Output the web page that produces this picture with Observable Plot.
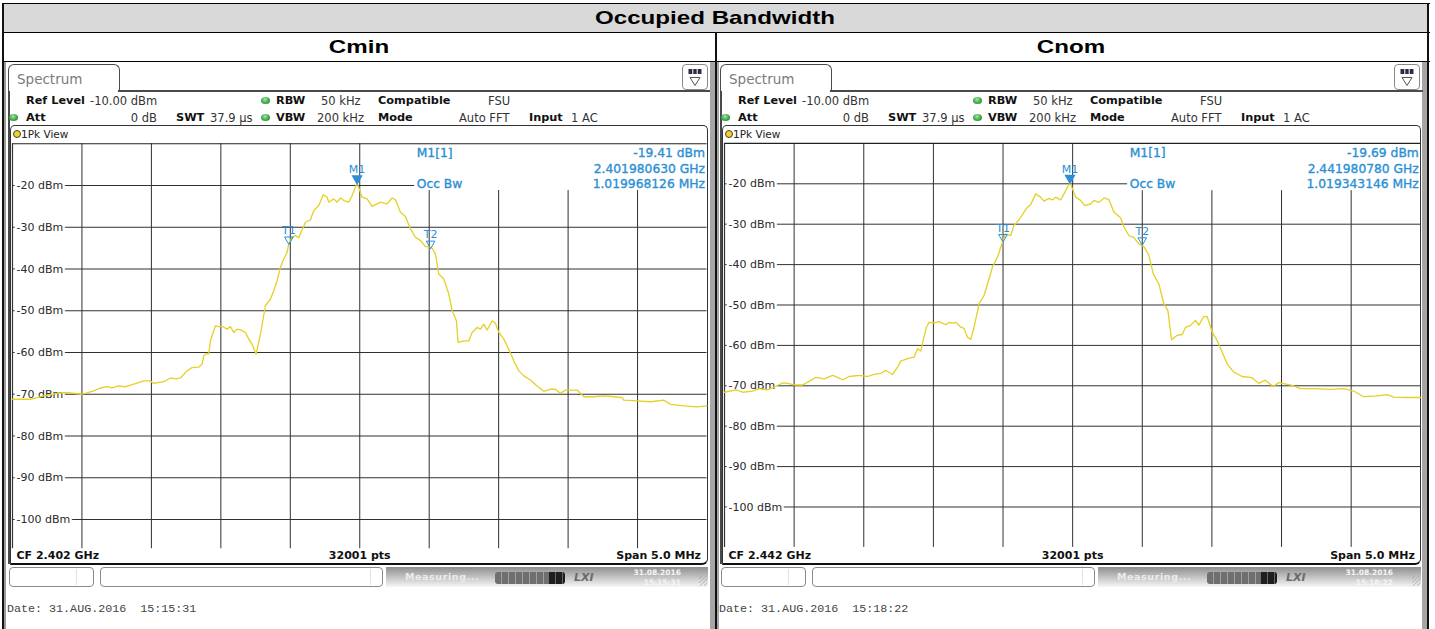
<!DOCTYPE html>
<html>
<head>
<meta charset="utf-8">
<script src="https://cdn.jsdelivr.net/npm/d3@7"></script>
<script src="https://cdn.jsdelivr.net/npm/@observablehq/plot@0.6"></script>
<style>
html, body { margin: 0; padding: 0; background: #fff; }
#page { position: relative; width: 1435px; height: 629px; overflow: hidden; font-family: "DejaVu Sans", sans-serif; }
</style>
</head>
<body>
<div id="page"></div>
<script>
// ---------------- DATA ----------------
const chartTitle = "Occupied Bandwidth";
const panelTitles = ["Cmin", "Cnom"];

// trace: [frequency offset from CF in MHz, level in dBm]
const cminTrace = [
  [-2.500,-71.2],[-2.371,-71.2],[-2.275,-70.4],[-2.167,-69.7],[-2.107,-69.6],[-1.999,-70.0],[-1.915,-69.2],
  [-1.867,-68.5],[-1.819,-68.2],[-1.783,-68.5],[-1.735,-68.0],[-1.687,-68.2],[-1.627,-67.6],[-1.555,-66.8],
  [-1.507,-66.8],[-1.483,-67.4],[-1.411,-67.0],[-1.363,-66.1],[-1.327,-66.3],[-1.291,-66.1],[-1.243,-64.4],
  [-1.207,-63.6],[-1.159,-63.5],[-1.135,-62.8],[-1.123,-60.8],[-1.099,-60.2],[-1.087,-60.3],[-1.075,-57.2],
  [-1.039,-53.6],[-1.015,-53.8],[-0.991,-53.7],[-0.955,-54.4],[-0.931,-53.8],[-0.907,-55.2],[-0.883,-54.4],
  [-0.859,-54.6],[-0.823,-55.2],[-0.799,-56.8],[-0.775,-58.0],[-0.746,-60.4],[-0.715,-55.6],[-0.679,-48.8],
  [-0.643,-47.2],[-0.619,-45.2],[-0.595,-42.8],[-0.571,-39.6],[-0.547,-37.6],[-0.523,-36.0],[-0.511,-34.0],
  [-0.487,-32.4],[-0.463,-32.0],[-0.439,-32.5],[-0.415,-30.6],[-0.391,-28.8],[-0.355,-28.2],[-0.331,-26.0],
  [-0.295,-24.8],[-0.263,-22.2],[-0.235,-22.8],[-0.223,-24.0],[-0.187,-23.2],[-0.163,-24.0],[-0.139,-23.0],
  [-0.115,-23.6],[-0.079,-24.0],[-0.055,-22.4],[-0.019,-19.41],[0.017,-22.8],[0.053,-23.2],[0.089,-25.0],
  [0.125,-24.4],[0.149,-24.0],[0.173,-24.2],[0.197,-24.4],[0.233,-23.0],[0.257,-23.4],[0.293,-26.4],
  [0.329,-27.4],[0.365,-30.4],[0.401,-32.4],[0.437,-33.2],[0.473,-34.6],[0.521,-35.0],[0.545,-36.4],
  [0.569,-41.2],[0.605,-42.4],[0.641,-46.0],[0.665,-50.0],[0.696,-52.4],[0.708,-57.6],[0.749,-57.2],
  [0.785,-57.2],[0.809,-55.2],[0.845,-54.0],[0.869,-54.4],[0.893,-53.2],[0.917,-54.6],[0.953,-52.4],
  [0.977,-53.0],[1.001,-55.2],[1.037,-56.8],[1.073,-59.2],[1.109,-62.0],[1.145,-64.4],[1.181,-65.6],
  [1.229,-66.6],[1.277,-68.0],[1.325,-69.3],[1.373,-68.8],[1.409,-68.8],[1.445,-69.8],[1.481,-69.0],
  [1.565,-69.0],[1.613,-70.6],[1.685,-70.6],[1.757,-70.4],[1.829,-70.6],[1.889,-70.8],[1.901,-71.4],
  [1.997,-71.6],[2.093,-71.8],[2.189,-71.4],[2.237,-72.4],[2.333,-72.8],[2.429,-73.0],[2.500,-72.8]
];
const cnomTrace = [
  [-2.500,-71.6],[-2.418,-71.0],[-2.369,-71.6],[-2.298,-71.3],[-2.250,-70.7],[-2.190,-71.0],[-2.143,-70.3],
  [-2.083,-69.3],[-2.047,-69.4],[-1.999,-69.8],[-1.939,-69.8],[-1.892,-68.9],[-1.844,-67.9],[-1.784,-68.3],
  [-1.724,-67.4],[-1.688,-67.9],[-1.652,-68.5],[-1.605,-67.7],[-1.533,-67.4],[-1.473,-67.7],[-1.425,-67.2],
  [-1.377,-66.9],[-1.341,-66.2],[-1.293,-67.2],[-1.258,-65.4],[-1.234,-63.9],[-1.186,-63.3],[-1.138,-62.9],
  [-1.114,-60.8],[-1.090,-61.4],[-1.074,-58.8],[-1.050,-55.5],[-1.031,-54.3],[-0.995,-54.4],[-0.959,-54.1],
  [-0.911,-54.9],[-0.887,-54.3],[-0.863,-54.5],[-0.839,-54.3],[-0.803,-55.5],[-0.780,-55.8],[-0.755,-58.0],
  [-0.732,-58.5],[-0.708,-55.5],[-0.672,-49.7],[-0.636,-47.6],[-0.600,-43.5],[-0.576,-40.6],[-0.540,-38.2],
  [-0.516,-35.7],[-0.500,-34.0],[-0.481,-32.4],[-0.445,-32.8],[-0.421,-30.3],[-0.385,-28.9],[-0.349,-27.0],
  [-0.325,-25.8],[-0.301,-25.1],[-0.265,-22.5],[-0.230,-23.3],[-0.206,-24.3],[-0.170,-23.6],[-0.146,-24.0],
  [-0.122,-23.3],[-0.086,-24.0],[-0.050,-21.7],[-0.019,-19.69],[0.022,-23.3],[0.057,-24.1],[0.086,-25.4],
  [0.129,-25.0],[0.153,-24.1],[0.189,-24.6],[0.225,-23.5],[0.260,-23.9],[0.296,-27.0],[0.344,-28.4],
  [0.368,-30.7],[0.404,-32.8],[0.440,-33.3],[0.476,-34.9],[0.511,-35.5],[0.547,-37.7],[0.579,-42.3],
  [0.619,-44.8],[0.655,-49.7],[0.684,-51.4],[0.710,-58.6],[0.751,-57.5],[0.787,-57.3],[0.811,-55.5],
  [0.846,-55.1],[0.882,-53.8],[0.906,-55.0],[0.942,-52.8],[0.966,-52.9],[1.002,-56.7],[1.038,-58.8],
  [1.074,-61.7],[1.110,-64.6],[1.157,-66.6],[1.217,-67.7],[1.289,-68.0],[1.336,-69.4],[1.384,-68.6],
  [1.440,-70.2],[1.480,-69.2],[1.576,-69.9],[1.636,-70.7],[1.731,-70.7],[1.851,-70.9],[1.946,-70.7],
  [2.018,-71.3],[2.090,-72.7],[2.186,-72.5],[2.258,-72.2],[2.305,-72.8],[2.401,-72.9],[2.500,-72.9]
];

const markerNames = ["M1", "T1", "T2"];
const cminMarkerFreqs = [-0.019, -0.51, 0.51];
const cminMarkerLevels = [-19.41, -34.0, -35.0];
const cnomMarkerFreqs = [-0.019, -0.50, 0.50];
const cnomMarkerLevels = [-19.69, -34.3, -35.1];

const cminReadout = ["-19.41 dBm", "2.401980630 GHz", "1.019968126 MHz"];
const cnomReadout = ["-19.69 dBm", "2.441980780 GHz", "1.019343146 MHz"];
const centerFreqLabels = ["CF 2.402 GHz", "CF 2.442 GHz"];
const pointsLabel = "32001 pts";
const spanLabel = "Span 5.0 MHz";
const dateLines = ["Date: 31.AUG.2016  15:15:31", "Date: 31.AUG.2016  15:18:22"];
const statusTimes = ["15:15:31", "15:18:22"];
const statusDate = "31.08.2016";

const levelTicks = [-20, -30, -40, -50, -60, -70, -80, -90, -100];
const freqTicks = [-2, -1.5, -1, -0.5, 0, 0.5, 1, 1.5, 2];

const settingsRow1 = [["Ref Level", true], ["-10.00 dBm", false], ["RBW", true], ["50 kHz", false], ["Compatible", true], ["FSU", false]];
const settingsRow2 = [["Att", true], ["0 dB", false], ["SWT", true], ["37.9 µs", false], ["VBW", true], ["200 kHz", false], ["Mode", true], ["Auto FFT", false], ["Input", true], ["1 AC", false]];

// ---------------- LAYOUT ----------------
const row1X = [26, 90, 276, 321, 378, 488];
const row2X = [26, 157, 176, 210, 276, 317, 378, 459, 529, 571];
const layouts = [
  {ox: 0,   xL: 12,    xR: 706.5, yTop: 143.25, yBottomDb: -107, pxPerDb: 4.175, readoutDb: -21.2},
  {ox: 712, xL: 723.7, xR: 1420,  yTop: 142.9,  yBottomDb: -110, pxPerDb: 4.04,  readoutDb: -21.7}
];
const GRID = "#303030", TRACE = "#e3d125", BLUE = "#2a8fd4";

const page = document.getElementById("page");
function box(x, y, w, h, css = {}, text = null) {
  const d = document.createElement("div");
  d.style.position = "absolute";
  d.style.left = x + "px"; d.style.top = y + "px";
  if (w != null) d.style.width = w + "px";
  if (h != null) d.style.height = h + "px";
  d.style.boxSizing = "border-box";
  Object.assign(d.style, css);
  if (text != null) d.textContent = text;
  page.appendChild(d);
  return d;
}
function txt(x, cy, text, css = {}, anchor = "start") {
  const d = box(x, cy - 8, null, 16, {lineHeight: "16px", whiteSpace: "pre", ...css}, text);
  if (anchor === "end") d.style.transform = "translateX(-100%)";
  if (anchor === "middle") d.style.transform = "translateX(-50%)";
  return d;
}

// outer table
box(3, 3, 1425, 29, {background: "#d9d9d9"});
const headFont = {fontFamily: "'Liberation Sans', Arial, sans-serif", fontWeight: "bold", fontSize: "19px", color: "#000"};
box(715, 18, null, null, {...headFont, whiteSpace: "nowrap", lineHeight: "22px", transform: "translate(-50%,-50%) scaleX(1.27)"}, chartTitle);
box(359, 47, null, null, {...headFont, whiteSpace: "nowrap", lineHeight: "22px", transform: "translate(-50%,-50%) scaleX(1.27)"}, panelTitles[0]);
box(1071, 47, null, null, {...headFont, whiteSpace: "nowrap", lineHeight: "22px", transform: "translate(-50%,-50%) scaleX(1.27)"}, panelTitles[1]);
box(2, 2.5, 1428, 1.5, {background: "#000"});
box(2, 31.5, 1428, 1.5, {background: "#000"});
box(2, 60.5, 1428, 1.5, {background: "#000"});
box(1.5, 2.5, 2, 627, {background: "#111"});
box(3.5, 62, 2.5, 567, {background: "#9c9c9c"});
box(709.5, 62, 5, 567, {background: "#a6a6a6"});
box(714.5, 32, 2, 597, {background: "#111"});
box(716.5, 62, 2.5, 567, {background: "#a6a6a6"});
box(1421.5, 62, 5.5, 567, {background: "#a6a6a6"});
box(1427, 2.5, 2, 627, {background: "#111"});

layouts.forEach((L, i) => {
  const ox = L.ox;
  const boxRight = L.xR + 1.2;
  // tab
  box(ox + 8, 64, 111.5, 27.5, {border: "1.5px solid #4a4a4a", borderBottom: "none", borderRadius: "6px 6px 0 0", background: "#fff"});
  txt(ox + 17, 79, "Spectrum", {fontFamily: "'DejaVu Sans'", fontSize: "13.5px", color: "#7c7c7c"});
  box(ox + 118, 90, boxRight - ox - 118 + 2, 1.5, {background: "#4a4a4a"});
  box(ox + 8, 91, 1.5, 473, {background: "#4a4a4a"});
  // icon
  const ic = box(ox + 682, 64, 26, 26, {border: "1px solid #8a8a8a", borderRadius: "4px", background: "#fff"});
  ic.innerHTML = '<svg width="24" height="24" style="position:absolute;left:0;top:0"><rect x="5.5" y="4" width="13" height="5" fill="#2b2b45"/><line x1="9.8" y1="4" x2="9.8" y2="9" stroke="#fff" stroke-width="1"/><line x1="14.2" y1="4" x2="14.2" y2="9" stroke="#fff" stroke-width="1"/><path d="M7 12.5 L17 12.5 L12 20.5 Z" fill="none" stroke="#555" stroke-width="1"/></svg>';
  // settings
  const lab = {fontFamily: "'DejaVu Sans'", fontWeight: "bold", fontSize: "11.3px", color: "#111"};
  const val = {fontFamily: "'DejaVu Sans'", fontSize: "11.5px", color: "#333"};
  settingsRow1.forEach(([t, b], k) => txt(ox + row1X[k], 101, t, b ? lab : val));
  settingsRow2.forEach(([t, b], k) => txt(ox + row2X[k], 118, t, b ? lab : val, t === "0 dB" ? "end" : "start"));
  const dot = {borderRadius: "50%", background: "radial-gradient(circle at 45% 35%, #a8e6a8, #3aa845 55%, #237a2c)"};
  box(ox + 260.5, 96.5, 9, 7, dot);
  box(ox + 260.5, 113.5, 9, 7, dot);
  box(ox + 8.5, 113.5, 9, 7, dot);
  // view box
  box(ox + 10, 125, boxRight - ox - 10, 440, {border: "1.3px solid #333", borderBottom: "2.6px solid #111", borderRadius: "5px 5px 6px 0"});
  box(ox + 12.5, 130, 8, 8, {borderRadius: "50%", background: "#f2d21c", border: "1px solid #444"});
  txt(ox + 21, 134, "1Pk View", {fontFamily: "'DejaVu Sans'", fontSize: "10.5px", color: "#222"});
  // status bar
  box(ox + 9, 567, 85, 20, {border: "1px solid #8a8a8a", borderRadius: "4px"});
  box(ox + 76, 569, 1, 16, {background: "#e2e2e2"});
  box(ox + 100, 567, 283, 20, {border: "1px solid #8a8a8a", borderRadius: "4px"});
  box(ox + 370, 569, 1, 16, {background: "#e2e2e2"});
  box(ox + 386, 567, boxRight - ox - 386, 20, {background: "linear-gradient(#8f8f8f, #f6f6f6)"});
  txt(ox + 405, 577, "Measuring...", {fontFamily: "'DejaVu Sans'", fontWeight: "bold", fontSize: "9.5px", color: "#ececec", letterSpacing: "0.6px"});
  box(ox + 495, 571.5, 70, 12, {borderRadius: "3px", background: "repeating-linear-gradient(90deg, #6f6f6f 0 6px, #a0a0a0 6px 7px)"});
  box(ox + 549, 571.5, 16, 12, {borderRadius: "0 3px 3px 0", background: "repeating-linear-gradient(90deg, #1e1e1e 0 6px, #666 6px 7px)"});
  txt(ox + 574, 577.5, "LXI", {fontFamily: "'DejaVu Sans'", fontStyle: "italic", fontWeight: "bold", fontSize: "11px", color: "#6a6a6a"});
  txt(ox + 681, 573, statusDate, {fontFamily: "'DejaVu Sans'", fontWeight: "bold", fontSize: "7.5px", color: "#f6f6f6"}, "end");
  txt(ox + 681, 582.5, statusTimes[i], {fontFamily: "'DejaVu Sans'", fontWeight: "bold", fontSize: "7.5px", color: "#f6f6f6"}, "end");
  box(boxRight - 9, 575, 8, 11, {background: "repeating-linear-gradient(135deg, transparent 0 2px, #b5b5b5 2px 3px)"});
  txt(ox + 7, 609, dateLines[i], {fontFamily: "'Liberation Mono', monospace", fontSize: "11.7px", color: "#444"});
});

// ---------------- PLOTS ----------------
const panels = [
  {trace: cminTrace, freqs: cminMarkerFreqs, levels: cminMarkerLevels, readout: cminReadout, cf: centerFreqLabels[0]},
  {trace: cnomTrace, freqs: cnomMarkerFreqs, levels: cnomMarkerLevels, readout: cnomReadout, cf: centerFreqLabels[1]}
];

panels.forEach((p, i) => {
  const L = layouts[i];
  const svgLeft = L.xL - 2, svgTop = 141, height = 424;
  const innerW = L.xR - L.xL;
  const innerH = (-10 - L.yBottomDb) * L.pxPerDb;
  const marginTop = L.yTop - svgTop;
  const marginBottom = height - marginTop - innerH;
  const footerDy = 558.5 - (L.yTop + innerH);
  const markers = markerNames.map((name, k) => ({name, f: p.freqs[k], dBm: p.levels[k]}));
  const blueText = {fill: BLUE, stroke: BLUE, strokeWidth: 0.35, fontSize: 12.3, fontFamily: "DejaVu Sans"};
  const footText = {fill: "#111", fontSize: 11, fontWeight: "bold", fontFamily: "DejaVu Sans"};
  const chart = Plot.plot({
    width: innerW + 4, height,
    marginLeft: 2, marginRight: 2, marginTop, marginBottom,
    x: {domain: [-2.5, 2.5], axis: null},
    y: {domain: [L.yBottomDb, -10], axis: null},
    style: {fontFamily: "DejaVu Sans", background: "transparent", overflow: "visible"},
    marks: [
      Plot.ruleX(freqTicks, {x: d => d, y1: d => d > 0.25 ? L.readoutDb : -10, y2: L.yBottomDb, stroke: GRID, strokeWidth: 1}),
      Plot.ruleY(levelTicks, {y: d => d, x1: -2.5, x2: d => d === -20 ? 0.395 : 2.5, stroke: GRID, strokeWidth: 1}),
      Plot.ruleY([-10], {x1: -2.5, x2: 2.5, stroke: "#222", strokeWidth: 1.2}),
      Plot.ruleX([-2.5], {y1: -10, y2: L.yBottomDb, stroke: "#333", strokeWidth: 1.2}),
      Plot.text(levelTicks, {x: -2.5, y: d => d, text: d => `${d} dBm`, textAnchor: "start", dx: 4,
        fontSize: 11, fill: "#2a2a2a", stroke: "white", strokeWidth: 5, paintOrder: "stroke"}),
      Plot.line(p.trace, {x: d => d[0], y: d => d[1], stroke: TRACE, strokeWidth: 1.3}),
      Plot.dot(markers.filter(m => m.name.startsWith("M")), {x: "f", y: "dBm", symbol: "triangle", rotate: 180, r: 3.2, fill: BLUE, stroke: BLUE, dy: -4.5}),
      Plot.dot(markers.filter(m => m.name.startsWith("T")), {x: "f", y: "dBm", symbol: "triangle", rotate: 180, r: 3.2, fill: "none", stroke: BLUE, strokeWidth: 1, dy: -4.5}),
      Plot.text(markers, {x: "f", y: "dBm", text: "name", dy: -13.5, fill: BLUE, fontSize: 11}),
      Plot.text(["M1[1]"], {x: 0.41, frameAnchor: "top", dy: 5, textAnchor: "start", ...blueText}),
      Plot.text(["Occ Bw"], {x: 0.41, frameAnchor: "top", dy: 36, textAnchor: "start", ...blueText}),
      ...p.readout.map((t, k) => Plot.text([t], {frameAnchor: "top-right", dx: -2, dy: [5, 20.5, 36][k], textAnchor: "end", ...blueText})),
      Plot.text([p.cf], {frameAnchor: "bottom-left", dx: 4, dy: footerDy, textAnchor: "start", ...footText}),
      Plot.text([pointsLabel], {frameAnchor: "bottom", dy: footerDy, ...footText}),
      Plot.text([spanLabel], {frameAnchor: "bottom-right", dx: -6, dy: footerDy, textAnchor: "end", ...footText})
    ]
  });
  chart.style.position = "absolute";
  chart.style.left = svgLeft + "px";
  chart.style.top = svgTop + "px";
  chart.style.maxWidth = "none";
  page.appendChild(chart);
});
</script>
</body>
</html>
